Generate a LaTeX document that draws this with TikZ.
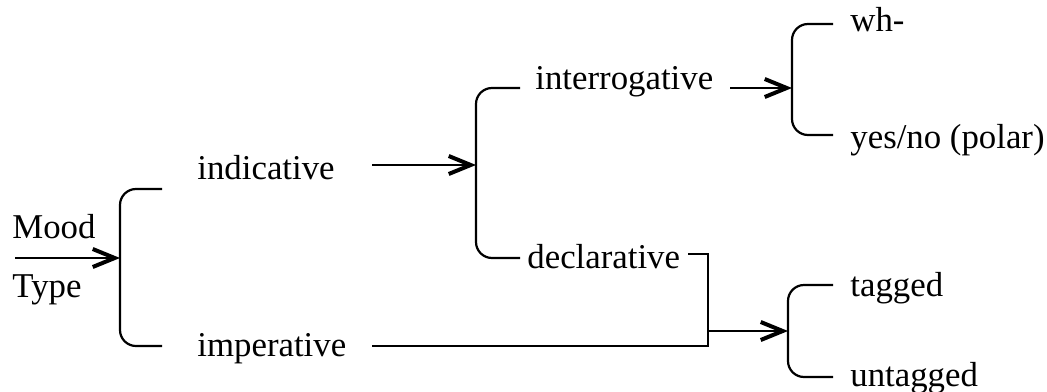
\documentclass[tikz,border=0pt]{standalone}
\usepackage{fontspec}
\setmainfont{Liberation Serif}
\usetikzlibrary{arrows.meta}
\usetikzlibrary{calc}

\tikzset{
  term/.style={anchor=base west, inner sep=0pt, font=\fontsize{17.4}{20}\selectfont},
  bracket/.style={draw, line width=1.1pt, rounded corners=8pt},
  link/.style={draw, line width=1.1pt},
  choice/.style={link, -{Straight Barb[length=11pt,width=9pt,line width=2pt]}}
}

\begin{document}
\begin{tikzpicture}[x=0.5pt,y=-0.5pt]
  \useasboundingbox (0,0) rectangle (1047,391);

  % entry condition
  \node [term] (mood) at (12,238) {Mood};
  \node [term] (type) at (12,297) {Type};
  \coordinate (start) at (15,258);

  % mood system
  \coordinate (b1) at (120,258);
  \path [bracket] (162,189) -| (b1) |- (162,346);
  \node [term] (indic) at (197,179) {indicative};
  \node [term] (imper) at (197,356) {imperative};

  % indicative system
  \coordinate (b2) at (476,165);
  \path [bracket] (520,88) -| (b2) |- (520,258);
  \node [term] (inter) at (535,89) {interrogative};
  \node [term] (decl) at (527,268) {declarative};

  % interrogative system
  \coordinate (b3) at (792,88);
  \path [bracket] (833,24) -| (b3) |- (833,135);
  \node [term] (wh) at (850,31) {wh-};
  \node [term] (polar) at (850,148) {yes/no (polar)};

  % tagging system
  \coordinate (b4) at (788,331);
  \path [bracket] (833,285) -| (b4) |- (833,377);
  \node [term] (tag) at (850,296) {tagged};
  \node [term] (untag) at (850,386) {untagged};

  % connectors
  \coordinate (indic_out) at (372,165);
  \coordinate (inter_out) at (730,88);
  \coordinate (decl_out) at (688,254);
  \coordinate (imper_out) at (372,346);
  \coordinate (join) at (708,331);

  \path [choice] (start) -- (b1);
  \path [choice] (indic_out) -- (b2);
  \path [choice] (inter_out) -- (b3);
  \path [link] (decl_out) -| ($(join)+(0,15)$) -- (imper_out);
  \path [choice] (join) -- (b4);
\end{tikzpicture}
\end{document}
